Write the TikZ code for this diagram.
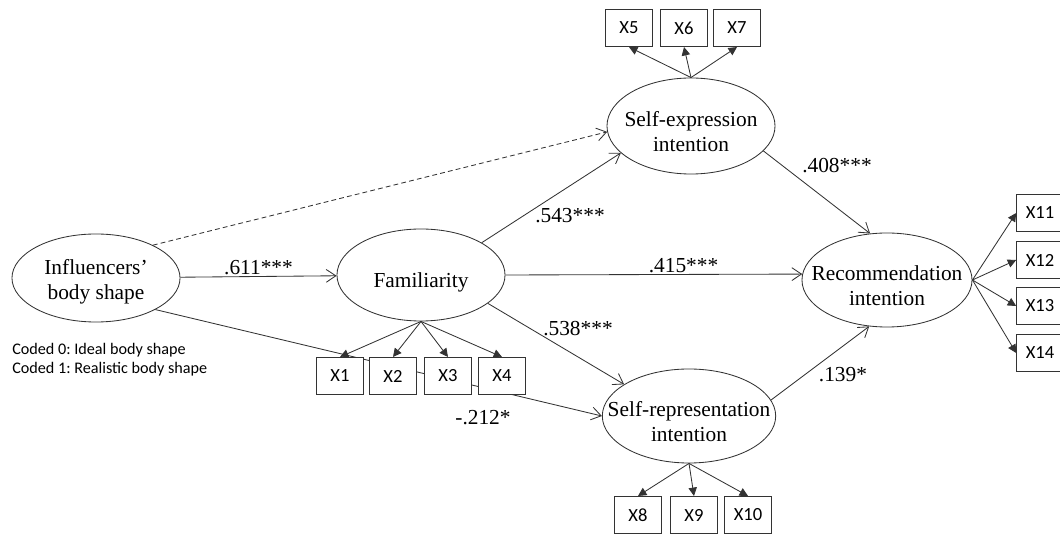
\documentclass[tikz,border=0pt]{standalone}
\usepackage{fontspec}
\setmainfont{Liberation Serif}
\newfontfamily\calibrifont{Carlito}
\usepackage{tikz}
\usetikzlibrary{arrows.meta,shapes.geometric}
\newcommand{\lowtext}[2][5.5pt]{\raisebox{-#1}[\height][\depth]{\begin{tabular}{@{}c@{}}#2\end{tabular}}}
\frenchspacing

\begin{document}
\begin{tikzpicture}[
    x=0.025cm, y=-0.025cm,
    latent/.style={ellipse, draw=black!80, line width=0.6pt, inner xsep=-0.5cm, inner ysep=0pt, minimum width=4.2cm, minimum height=2.3cm, font=\fontsize{15.2pt}{17.8pt}\selectfont},
    indicator/.style={draw=black!80, line width=0.6pt, fill=white, inner sep=0pt, minimum width=1.17cm, minimum height=0.93cm, font=\calibrifont\fontsize{13.2pt}{15pt}\selectfont},
    coef/.style={font=\fontsize{15.2pt}{17.8pt}\selectfont, inner sep=1pt},
    effect/.style={-{Straight Barb[length=2.4mm,width=3.2mm]}, line width=0.6pt, draw=black!80},
    loading/.style={-{Triangle[length=2.1mm,width=2.1mm]}, line width=0.6pt, draw=black!80}
  ]
    \useasboundingbox (0,0) rectangle (1060,536);

    % latent variables
    \node[latent, minimum height=2.2cm] (body) at (96,278) {\lowtext[3pt]{Influencers'\\body shape}};
    \node[latent] (fam) at (421,275) {\lowtext{Familiarity}};
    \node[latent, minimum height=2.4cm] (selfexp) at (691,126) {\lowtext{Self-expression\\intention}};
    \node[latent, minimum height=2.35cm] (selfrep) at (689,416) {\lowtext{Self-representation\\intention}};
    \node[latent, minimum width=4.25cm, minimum height=2.35cm] (rec) at (887,280) {\lowtext{Recommendation\\intention}};

    \node[anchor=north west, align=left, inner sep=0pt, font=\calibrifont\fontsize{11.5pt}{13.5pt}\selectfont] (coding) at (12,343) {Coded 0: Ideal body shape\\Coded 1: Realistic body shape};

    % direct effect passing behind the indicators
    \draw[effect] (body.332) -- (selfrep.180);
    \node[coef] (c212) at (483,418) {-.212*};

    % indicators
    \node[indicator] (x1) at (340,376) {X1};
    \node[indicator] (x2) at (393,376) {X2};
    \node[indicator] (x3) at (448,376) {X3};
    \node[indicator] (x4) at (502,376) {X4};
    \node[indicator] (x5) at (629,28) {X5};
    \node[indicator] (x6) at (684,28) {X6};
    \node[indicator] (x7) at (737,28) {X7};
    \node[indicator] (x8) at (638,515) {X8};
    \node[indicator] (x9) at (694,515) {X9};
    \node[indicator] (x10) at (748,515) {X10};
    \node[indicator] (x11) at (1040,213) {X11};
    \node[indicator] (x12) at (1040,260) {X12};
    \node[indicator] (x13) at (1040,306) {X13};
    \node[indicator] (x14) at (1040,353) {X14};

    % structural paths
    \draw[effect] (body) -- node[coef, above]{.611***} (fam);
    \draw[effect, dash pattern=on 1.2mm off 0.8mm] (body.30) -- (selfexp.184);
    \draw[effect] (fam.28) -- (selfexp.201);
    \draw[effect] (fam.0) -- node[coef, above, pos=0.6]{.415***} (rec.176);
    \draw[effect] (fam.337) -- (selfrep.154);
    \draw[effect] (selfexp.341) -- (rec.110);
    \draw[effect] (selfrep.11) -- (rec.249);
    \node[coef] (c543) at (570,216) {.543***};
    \node[coef] (c538) at (578,329) {.538***};
    \node[coef] (c408) at (837,166) {.408***};
    \node[coef] (c139) at (843,375) {.139*};

    % measurement paths
    \foreach \x in {x1,x2,x3,x4}
      \draw[loading] (fam.south) -- (\x.north);
    \foreach \x in {x5,x6,x7}
      \draw[loading] (selfexp.north) -- (\x.south);
    \foreach \x in {x8,x9,x10}
      \draw[loading] (selfrep.south) -- (\x.north);
    \foreach \x in {x11,x12,x13,x14}
      \draw[loading] (rec.east) -- (\x.west);
  \end{tikzpicture}
\end{document}
